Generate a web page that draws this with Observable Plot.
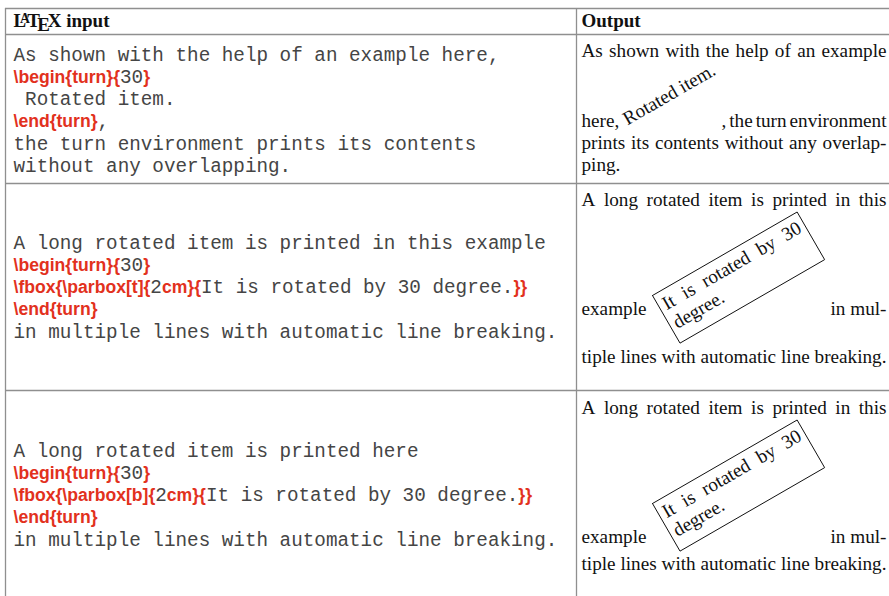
<!DOCTYPE html>
<html><head><meta charset="utf-8">
<script src="https://cdn.jsdelivr.net/npm/d3@7"></script>
<script src="https://cdn.jsdelivr.net/npm/@observablehq/plot@0.6"></script>
<style>html,body{margin:0;padding:0;background:#fff;overflow:hidden}</style>
</head><body><div id="chart"></div>
<script>
// ---------------- content ----------------
const headerLabels = ["input", "Output"];           // first header is preceded by the LaTeX logo
const logoLetters = ["L", "A", "T", "E", "X"];
// "§" toggles between plain text (monospace) and LaTeX markup (red)
const inputRow1 = [
  "As shown with the help of an example here,",
  "§\\begin{turn}{§30§}§",
  " Rotated item.",
  "§\\end{turn}§,",
  "the turn environment prints its contents",
  "without any overlapping."
];
const inputRow2 = [
  "A long rotated item is printed in this example",
  "§\\begin{turn}{§30§}§",
  "§\\fbox{\\parbox[t]{§2§cm}{§It is rotated by 30 degree.§}}§",
  "§\\end{turn}§",
  "in multiple lines with automatic line breaking."
];
const inputRow3 = [
  "A long rotated item is printed here",
  "§\\begin{turn}{§30§}§",
  "§\\fbox{\\parbox[b]{§2§cm}{§It is rotated by 30 degree.§}}§",
  "§\\end{turn}§",
  "in multiple lines with automatic line breaking."
];
const outputRow1 = {lead: ["As shown with the help of an example"], left: "here,", turned: ["Rotated item."], boxed: false,
  right: ", the turn environment", tail: ["prints its contents without any overlap-", "ping."]};
const outputRow2 = {lead: ["A long rotated item is printed in this"], left: "example", turned: ["It is rotated by 30", "degree."], boxed: true,
  right: "in mul-", tail: ["tiple lines with automatic line breaking."]};
const outputRow3 = {lead: ["A long rotated item is printed in this"], left: "example", turned: ["It is rotated by 30", "degree."], boxed: true,
  right: "in mul-", tail: ["tiple lines with automatic line breaking."]};
const turnAngle = 30;

// ---------------- layout ----------------
const W = 889, H = 596;
const G = {left: 5, mid: 576, top: 8, hLines: [8, 34, 183, 390], inX: 13, outX: 581, outR: 886};
const S = {mono: 19.3, code: 17.6, serif: 19.2, head: 19, lineIn: 22.3, lineOut: 22};
const inputBaselines = [60, 248, 456];
const outGeom = [
  {lead: 56, mid: 126, origin: [627, 125], tail: 148, spaceFactor: 0.62},
  {lead: 205, mid: 314, origin: [652, 295], tail: 362, spaceFactor: 1},
  {lead: 413, mid: 542, origin: [652, 503], tail: 569, spaceFactor: 1}
];
const BOX = {w: 167, h: 55, u0: 5, u1: 162, v: [20, 41.5]};
const C = {mono: "#454545", code: "#e2311d", text: "#111", grid: "#8f8f8f"};

const F = {
  mono: `${S.mono}px "Liberation Mono"`,
  code: `bold ${S.code}px "Liberation Sans"`,
  serif: `${S.serif}px "Liberation Serif"`,
  head: `bold ${S.head}px "Liberation Serif"`,
  headSmall: `bold ${S.head * 0.72}px "Liberation Serif"`
};
const ctx = document.createElement("canvas").getContext("2d");
function tw(t, font) { ctx.font = font; return ctx.measureText(t).width; }

// ---- input column ----
const monoItems = [], codeItems = [];
function layInput(lines, y0) {
  lines.forEach((line, i) => {
    const y = y0 + i * S.lineIn;
    let x = G.inX;
    line.split("§").forEach((part, k) => {
      if (!part) return;
      const isCode = k % 2 === 1;
      const font = isCode ? F.code : F.mono;
      const lead = part.match(/^ */)[0].length;
      x += lead * tw(" ", font);
      const t = part.slice(lead);
      (isCode ? codeItems : monoItems).push({x, y, text: t});
      x += tw(t, font);
    });
  });
}
[inputRow1, inputRow2, inputRow3].forEach((r, i) => layInput(r, inputBaselines[i]));

// ---- output column ----
const serifItems = [], turnedItems = [], boxes = [];
function layLine(line, x0, x1, y, justify, out) {
  const words = line.split(" ");
  const ws = words.map(w => tw(w, F.serif));
  const total = d3.sum(ws);
  const natural = total + (words.length - 1) * tw(" ", F.serif);
  const doJ = justify && words.length > 1 && natural > 0.8 * (x1 - x0);
  const gap = doJ ? (x1 - x0 - total) / (words.length - 1) : tw(" ", F.serif);
  let x = x0;
  words.forEach((w, i) => { out.push({x, y, text: w}); x += ws[i] + gap; });
}
// right-aligned run; interword spaces scaled (TeX shrinks them on a tight line)
function layRight(line, x1, y, factor, out) {
  const words = line.split(" ");
  const ws = words.map(w => tw(w, F.serif));
  const gap = tw(" ", F.serif) * factor;
  let x = x1 - d3.sum(ws) - gap * (words.length - 1);
  words.forEach((w, i) => { out.push({x, y, text: w}); x += ws[i] + gap; });
}
const a = turnAngle * Math.PI / 180, ca = Math.cos(a), sa = Math.sin(a);
function toWorld(o, u, v) { return [o[0] + u * ca + v * sa, o[1] - u * sa + v * ca]; }

[outputRow1, outputRow2, outputRow3].forEach((r, i) => {
  const g = outGeom[i];
  r.lead.forEach((l, j) => layLine(l, G.outX, G.outR, g.lead + j * S.lineOut, true, serifItems));
  serifItems.push({x: G.outX, y: g.mid, text: r.left});
  layRight(r.right, G.outR, g.mid, g.spaceFactor, serifItems);
  r.tail.forEach((l, j) => layLine(l, G.outX, G.outR, g.tail + j * S.lineOut, true, serifItems));
  if (r.boxed) {
    const local = [];
    r.turned.forEach((l, j) => layLine(l, BOX.u0, BOX.u1, BOX.v[j], j < r.turned.length - 1, local));
    local.forEach(d => { const [x, y] = toWorld(g.origin, d.x, d.y); turnedItems.push({x, y, text: d.text}); });
    const corners = [[0, 0], [BOX.w, 0], [BOX.w, BOX.h], [0, BOX.h], [0, 0]];
    corners.forEach(([u, v]) => { const [x, y] = toWorld(g.origin, u, v); boxes.push({box: i, x, y}); });
  } else {
    r.turned.forEach(l => turnedItems.push({x: g.origin[0], y: g.origin[1], text: l}));
  }
});

// ---- header ----
const headItems = [], headSmallItems = [];
{
  const em = S.head, y = 26;
  let x = G.inX;
  headItems.push({x, y, text: logoLetters[0]}); x += tw("L", F.head) - 0.33 * em;
  headSmallItems.push({x, y: y - 3.8, text: logoLetters[1]}); x += tw("A", F.headSmall) - 0.13 * em;
  headItems.push({x, y, text: logoLetters[2]}); x += tw("T", F.head) - 0.15 * em;
  headItems.push({x, y: y + 4, text: logoLetters[3]}); x += tw("E", F.head) - 0.11 * em;
  headItems.push({x, y, text: logoLetters[4]}); x += tw("X", F.head) + tw(" ", F.head);
  headItems.push({x, y, text: headerLabels[0]});
  headItems.push({x: G.outX, y, text: headerLabels[1]});
}

const txt = (data, opts) => Plot.text(data, {x: "x", y: "y", text: "text", textAnchor: "start", lineAnchor: "bottom", ...opts});

const chart = Plot.plot({
  width: W, height: H, margin: 0,
  x: {domain: [0, W], range: [0, W], axis: null},
  y: {domain: [0, H], range: [0, H], axis: null},
  style: {background: "#fff"},
  marks: [
    Plot.ruleY(G.hLines, {y: d => d, x1: () => G.left, x2: () => W, stroke: C.grid, strokeWidth: 1.3}),
    Plot.ruleX([G.left, G.mid], {x: d => d, y1: () => G.top, y2: () => H, stroke: C.grid, strokeWidth: 1.3}),
    txt(headItems, {fontFamily: "Liberation Serif", fontWeight: "bold", fontSize: S.head, fill: C.text}),
    txt(headSmallItems, {fontFamily: "Liberation Serif", fontWeight: "bold", fontSize: S.head * 0.72, fill: C.text}),
    txt(monoItems, {fontFamily: "Liberation Mono", fontSize: S.mono, fill: C.mono}),
    txt(codeItems, {fontFamily: "Liberation Sans", fontWeight: "bold", fontSize: S.code, fill: C.code}),
    txt(serifItems, {fontFamily: "Liberation Serif", fontSize: S.serif, fill: C.text}),
    txt(turnedItems, {fontFamily: "Liberation Serif", fontSize: S.serif, fill: C.text, rotate: -turnAngle}),
    Plot.line(boxes, {x: "x", y: "y", z: "box", stroke: C.text, strokeWidth: 1, strokeLinejoin: "miter"})
  ]
});
document.getElementById("chart").appendChild(chart);
</script>
</body></html>
